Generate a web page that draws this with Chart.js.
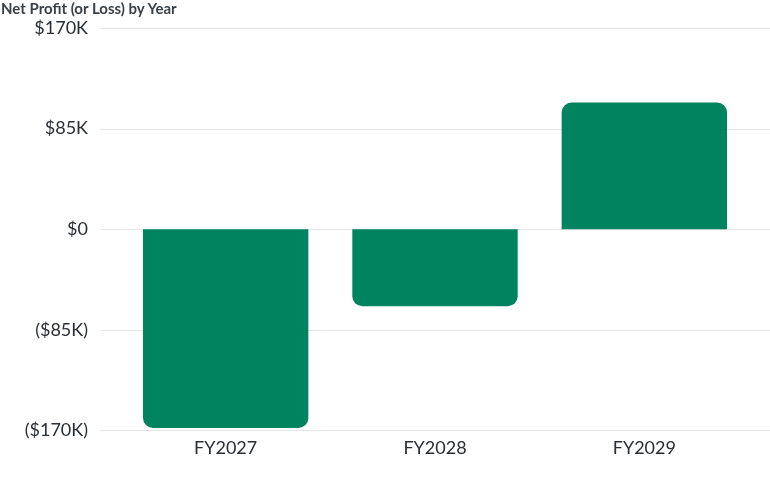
<!DOCTYPE html>
<html><head><meta charset="utf-8">
<script src="https://cdn.jsdelivr.net/npm/chart.js@4/dist/chart.umd.min.js"></script>
<style>
html,body{margin:0;padding:0;background:#fff}
#wrap{position:relative;width:770px;height:477px}
#title{position:absolute;left:1px;top:0px;font:bold 15px Lato, sans-serif;color:#3b4047;line-height:17px;white-space:nowrap}
</style>
</head><body><div id="wrap"><div id="title">Net Profit (or Loss) by Year</div><canvas id="c"></canvas></div>
<script>
const categories = ["FY2027", "FY2028", "FY2029"];
const netProfit = [-168000, -65000, 107000];
const yTicks = [-170000, -85000, 0, 85000, 170000];
const tickLabels = ["($170K)", "($85K)", "$0", "$85K", "$170K"];

const gridPlugin = {
  id: 'fullGrid',
  beforeDatasetsDraw(chart) {
    const ctx = chart.ctx, y = chart.scales.y;
    ctx.save();
    ctx.strokeStyle = '#e6e6e6';
    ctx.lineWidth = 1;
    yTicks.forEach(v => {
      const py = Math.round(y.getPixelForValue(v)) + 0.5;
      ctx.beginPath();
      ctx.moveTo(100, py);
      ctx.lineTo(chart.width, py);
      ctx.stroke();
    });
    ctx.restore();
  }
};

new Chart(document.getElementById('c'), {
  type: 'bar',
  data: {
    labels: categories,
    datasets: [{
      data: netProfit,
      backgroundColor: '#00845f',
      borderRadius: 10,
      borderSkipped: 'start',
      barPercentage: 0.79,
      categoryPercentage: 1.0
    }]
  },
  options: {
    responsive: true,
    maintainAspectRatio: false,
    animation: false,
    layout: { padding: { left: 0, right: 21, top: 28, bottom: 19 } },
    plugins: {
      legend: { display: false },
      tooltip: { enabled: false },
      title: { display: false }
    },
    scales: {
      x: {
        grid: { display: false },
        border: { display: false },
        ticks: { color: '#2a2e35', font: { family: 'Lato', size: 18 }, padding: -1 }
      },
      y: {
        min: -170000, max: 170000,
        afterBuildTicks(scale) { scale.ticks = yTicks.map(v => ({ value: v })); },
        afterFit(scale) { scale.width = 121; scale.paddingTop = 11; scale.paddingBottom = 11; },
        grid: { display: false },
        border: { display: false },
        ticks: {
          color: '#2a2e35',
          font: { family: 'Lato', size: 18 },
          padding: 25,
          callback(v) { const i = yTicks.indexOf(v); return i >= 0 ? tickLabels[i] : ''; }
        }
      }
    }
  },
  plugins: [gridPlugin]
});
</script></body></html>
